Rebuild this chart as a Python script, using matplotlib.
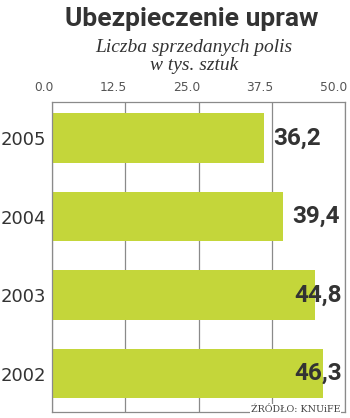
import matplotlib
matplotlib.use("Agg")
import matplotlib.pyplot as plt
import matplotlib.transforms as mtransforms

# liczba sprzedanych polis, tys. sztuk
years = ["2002", "2003", "2004", "2005"]
values = [46.3, 44.8, 39.4, 36.2]
ticks = [0.0, 12.5, 25.0, 37.5, 50.0]

green = "#c4d63a"
dark = "#333333"
grey = "#8a8a8a"

fig = plt.figure(figsize=(3.5, 4.18), dpi=100)
ax = fig.add_axes([0.1486, 0.014, 0.8371, 0.742])

pos = range(len(years))
ax.barh(pos, values, height=0.63, color=green, zorder=2)

ax.set_xlim(0, 50)
ax.set_ylim(-0.49, 3.46)
ax.set_xticks(ticks)
ax.set_xticklabels([f"{t:.1f}" for t in ticks])
ax.xaxis.tick_top()
ax.tick_params(axis="x", length=0, pad=6, labelsize=8.8, labelcolor="#555555")
shift = mtransforms.ScaledTranslation(2 / 100, 0, fig.dpi_scale_trans)
for lbl in ax.get_xticklabels():
    lbl.set_horizontalalignment("right")
    lbl.set_transform(lbl.get_transform() + shift)
ax.set_yticks(list(pos))
ax.set_yticklabels(years)
ax.tick_params(axis="y", length=0, pad=4, labelsize=13, labelcolor=dark)
ax.grid(axis="x", color=grey, linewidth=0.9, zorder=1)

for side in ["top", "bottom", "left", "right"]:
    ax.spines[side].set_color(grey)
    ax.spines[side].set_linewidth(0.9)

# etykiety wartości z przecinkiem dziesiętnym
for p, v in zip(pos, values):
    label = f"{v:.1f}".replace(".", ",")
    if v > 42:
        ax.text(49.4, p, label, ha="right", va="center", fontsize=17.5,
                fontweight="bold", family="Roboto", color=dark, zorder=3)
    else:
        ax.text(v + 1.6, p, label, ha="left", va="center", fontsize=17.5,
                fontweight="bold", family="Roboto", color=dark, zorder=3)

fig.text(0.549, 1 - 26 / 418, "Ubezpieczenie upraw", ha="center", va="baseline",
         fontsize=19, fontweight="bold", family="Roboto", color=dark)
fig.text(0.554, 1 - 52 / 418, "Liczba sprzedanych polis", ha="center",
         va="baseline", fontsize=14, style="italic", family="Liberation Serif",
         color=dark)
fig.text(0.554, 1 - 70 / 418, "w tys. sztuk", ha="center", va="baseline",
         fontsize=14, style="italic", family="Liberation Serif", color=dark)

fig.text(0.972, 1 - 412 / 418, "ŹRÓDŁO: KNUiFE", ha="right", va="baseline",
         fontsize=6.8, family="DejaVu Serif", color="#444444",
         bbox=dict(facecolor="white", edgecolor="none", pad=0.5))

fig.savefig("out.png", dpi=100)
